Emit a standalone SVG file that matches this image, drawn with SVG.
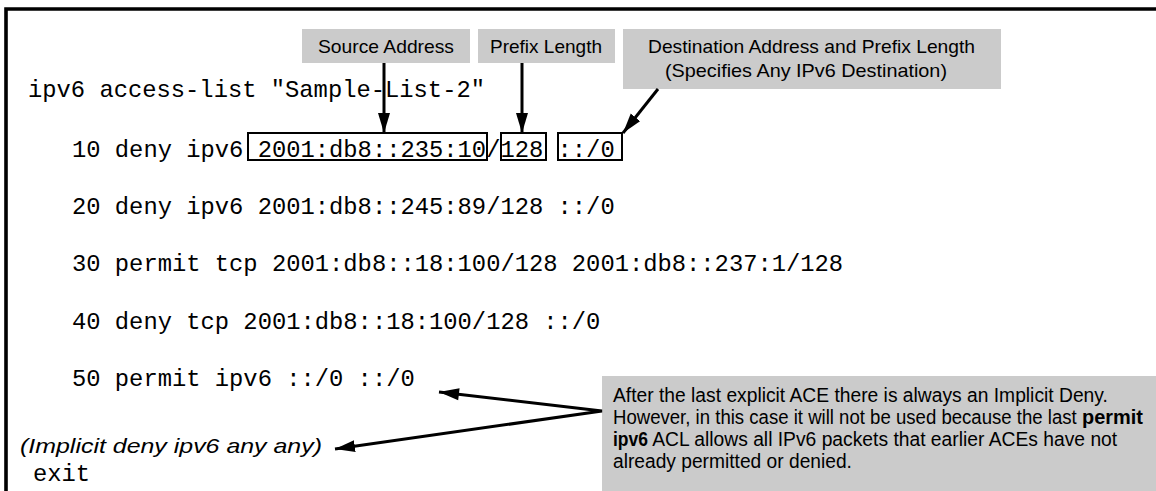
<svg xmlns="http://www.w3.org/2000/svg" width="1156" height="491" viewBox="0 0 1156 491">
<style>
.code{font-family:"Liberation Mono","Courier New",monospace;font-size:23.8px;fill:#000}
.lbl{font-family:"Liberation Sans Narrow","Liberation Sans",Arial,sans-serif;font-size:18.5px;fill:#000}
.note{font-family:"Liberation Sans Narrow","Liberation Sans",Arial,sans-serif;font-size:21px;fill:#000}
.b{font-weight:bold}
.gray{fill:#cbcbcb;stroke:none}
.hl{fill:none;stroke:#000;stroke-width:2}
.conn{fill:none;stroke:#000;stroke-width:3}
</style>
<defs>
<marker id="ah" markerUnits="userSpaceOnUse" markerWidth="22" markerHeight="14" refX="20" refY="6" orient="auto">
<path d="M0,0 L20,6 L0,12 Z" fill="#000"/>
</marker>
<marker id="ahs" markerUnits="userSpaceOnUse" markerWidth="22" markerHeight="14" refX="0" refY="6" orient="auto">
<path d="M20,0 L0,6 L20,12 Z" fill="#000"/>
</marker>
</defs>
<rect width="1156" height="491" fill="#fff"/>
<path d="M6,491 V9 H1156" fill="none" stroke="#000" stroke-width="3.6"/>

<g id="code">
<text class="code" x="28" y="97">ipv6 access-list "Sample-List-2"</text>
<text class="code" x="72" y="157">10 deny ipv6 2001:db8::235:10/128 ::/0</text>
<text class="code" x="72" y="214">20 deny ipv6 2001:db8::245:89/128 ::/0</text>
<text class="code" x="72" y="271">30 permit tcp 2001:db8::18:100/128 2001:db8::237:1/128</text>
<text class="code" x="72" y="329">40 deny tcp 2001:db8::18:100/128 ::/0</text>
<text class="code" x="72" y="386">50 permit ipv6 ::/0 ::/0</text>
<text class="note" x="20" y="453" font-style="italic" textLength="302" lengthAdjust="spacingAndGlyphs">(Implicit deny ipv6 any any)</text>
<text class="code" x="33" y="481">exit</text>
</g>

<g id="highlights">
<rect class="hl" x="248" y="133" width="239" height="27"/>
<rect class="hl" x="501" y="133" width="45" height="27"/>
<rect class="hl" x="558" y="133" width="64" height="27"/>
</g>

<g id="source-address">
<rect class="gray" x="302" y="29" width="168" height="34"/>
<text class="lbl" x="318" y="53" textLength="136" lengthAdjust="spacingAndGlyphs">Source Address</text>
</g>
<g id="prefix-length">
<rect class="gray" x="478" y="29" width="137" height="34"/>
<text class="lbl" x="490" y="53" textLength="112" lengthAdjust="spacingAndGlyphs">Prefix Length</text>
</g>
<g id="destination">
<rect class="gray" x="623" y="29" width="378" height="60"/>
<text class="lbl" x="648" y="53" textLength="327" lengthAdjust="spacingAndGlyphs">Destination Address and Prefix Length</text>
<text class="lbl" x="665" y="77" textLength="282" lengthAdjust="spacingAndGlyphs">(Specifies Any IPv6 Destination)</text>
</g>
<g id="note">
<rect class="gray" x="602" y="376" width="554" height="115"/>
<g transform="translate(613 0) scale(0.89 1)">
<text class="note" x="0" y="402" textLength="556" lengthAdjust="spacingAndGlyphs">After the last explicit ACE there is always an Implicit Deny.</text>
<text class="note" x="0" y="424" textLength="521" lengthAdjust="spacingAndGlyphs">However, in this case it will not be used because the last</text>
<text class="note b" x="527" y="424" textLength="68.5" lengthAdjust="spacingAndGlyphs">permit</text>
<text class="note b" x="0" y="446" textLength="39.3" lengthAdjust="spacingAndGlyphs">ipv6</text>
<text class="note" x="44" y="446" textLength="522.5" lengthAdjust="spacingAndGlyphs">ACL allows all IPv6 packets that earlier ACEs have not</text>
<text class="note" x="0" y="468" textLength="268.5" lengthAdjust="spacingAndGlyphs">already permitted or denied.</text>
</g>
</g>

<g id="connectors">
<line class="conn" x1="384" y1="63" x2="384" y2="133" marker-end="url(#ah)"/>
<line class="conn" x1="522" y1="63" x2="522" y2="133" marker-end="url(#ah)"/>
<line class="conn" x1="658" y1="89" x2="623" y2="133" marker-end="url(#ah)"/>
<polyline class="conn" points="439,392 602,411 335,449" marker-start="url(#ahs)" marker-end="url(#ah)"/>
</g>
</svg>
